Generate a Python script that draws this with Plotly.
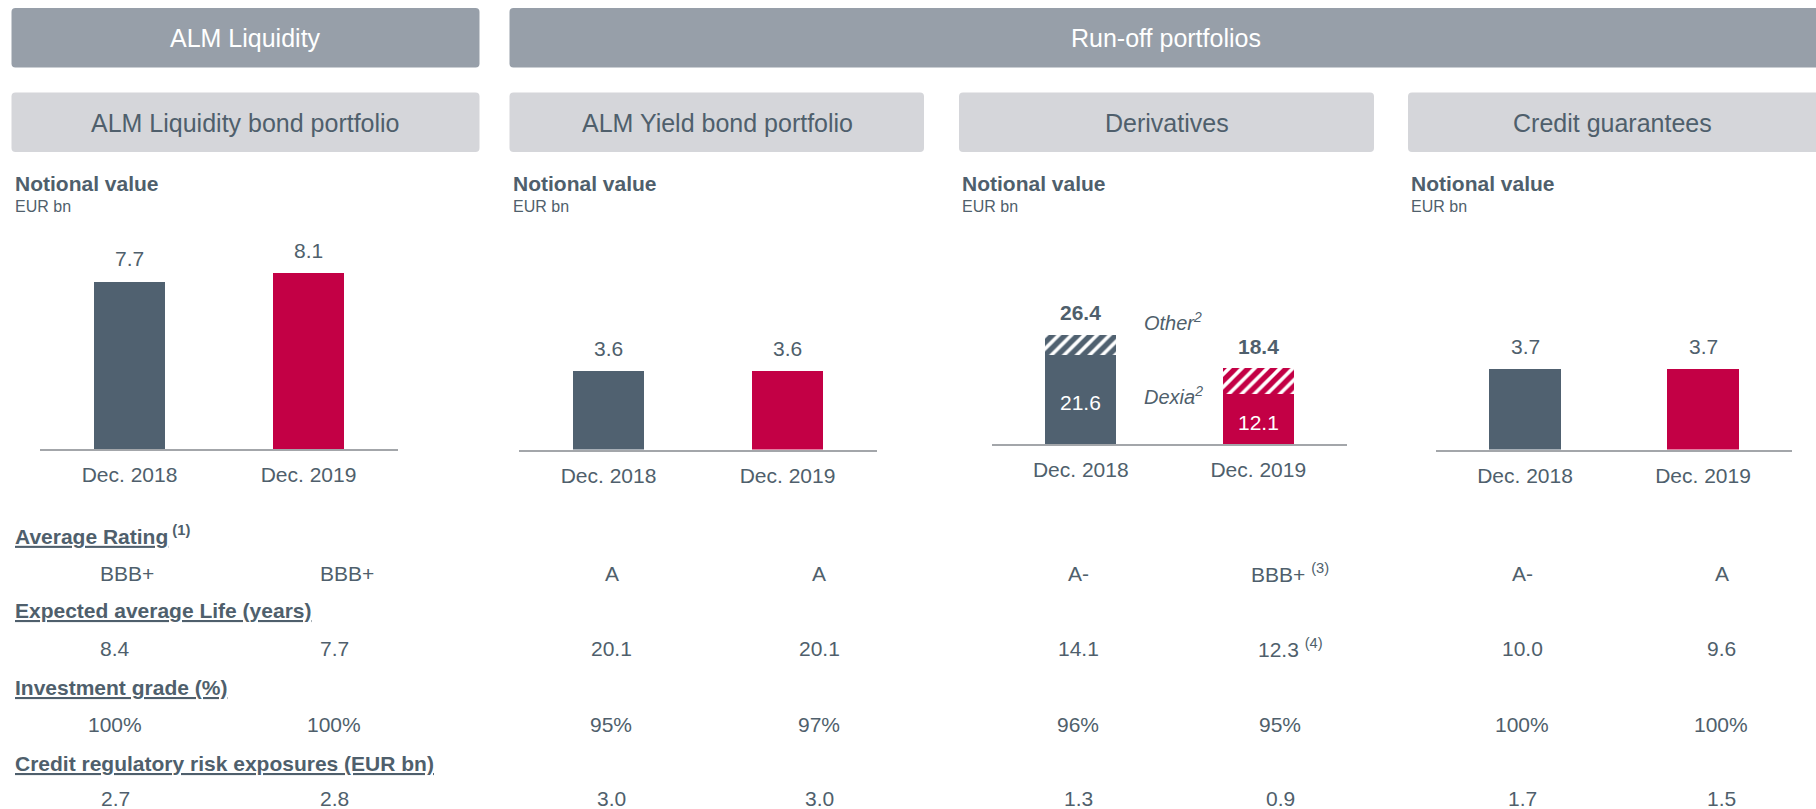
import plotly.graph_objects as go

W, H = 1816, 809

# ---------------- data ----------------
periods = ["Dec. 2018", "Dec. 2019"]

alm_liquidity_notional = [7.7, 8.1]
alm_yield_notional = [3.6, 3.6]
derivatives_dexia = [21.6, 12.1]
derivatives_other = [4.8, 6.3]
derivatives_total = [26.4, 18.4]
credit_guarantees_notional = [3.7, 3.7]

group_titles = ["ALM Liquidity", "Run-off portfolios"]
panel_titles = ["ALM Liquidity bond portfolio", "ALM Yield bond portfolio",
                "Derivatives", "Credit guarantees"]

metric_titles = ["Average Rating", "Expected average Life (years)",
                 "Investment grade (%)", "Credit regulatory risk exposures (EUR bn)"]
metric_title_notes = ["(1)", "", "", ""]

# one entry per column: 4 panels x (Dec. 2018, Dec. 2019)
average_rating = ["BBB+", "BBB+", "A", "A", "A-", "BBB+", "A-", "A"]
average_rating_notes = ["", "", "", "", "", "(3)", "", ""]
expected_life_years = [8.4, 7.7, 20.1, 20.1, 14.1, 12.3, 10.0, 9.6]
expected_life_notes = ["", "", "", "", "", "(4)", "", ""]
investment_grade_pct = [100, 100, 95, 97, 96, 95, 100, 100]
credit_risk_exposure = [2.7, 2.8, 3.0, 3.0, 1.3, 0.9, 1.7, 1.5]

# ---------------- styling ----------------
FONT = "Liberation Sans, Arial, sans-serif"
SLATE = "#4f5f6c"
DARK = "#506170"
RED = "#c30045"
GROUP_FILL = "#979fa9"
PANEL_FILL = "#d5d6da"
AXIS_LINE = "#a3a6aa"
PERIOD_COLORS = [DARK, RED]


def px_x(x):
    return x / W


def px_y(y):
    return 1 - y / H


def rounded_box(x0, y0, x1, y1, fill, r=4):
    X0, X1 = px_x(x0), px_x(x1)
    Y0, Y1 = px_y(y0), px_y(y1)
    rx, ry = r / W, r / H
    path = (f"M {X0 + rx},{Y0} L {X1 - rx},{Y0} Q {X1},{Y0} {X1},{Y0 - ry} "
            f"L {X1},{Y1 + ry} Q {X1},{Y1} {X1 - rx},{Y1} "
            f"L {X0 + rx},{Y1} Q {X0},{Y1} {X0},{Y1 + ry} "
            f"L {X0},{Y0 - ry} Q {X0},{Y0} {X0 + rx},{Y0} Z")
    return dict(type="path", path=path, xref="paper", yref="paper",
                fillcolor=fill, line=dict(width=0), layer="below")


def text_px(x, y, text, size, color=SLATE, xanchor="center", yanchor="middle"):
    return dict(x=px_x(x), y=px_y(y), xref="paper", yref="paper", text=text,
                showarrow=False, xanchor=xanchor, yanchor=yanchor,
                font=dict(family=FONT, size=size, color=color))


fig = go.Figure()
shapes = []
annotations = []

# ---------------- header boxes ----------------
# (left, right, text centre) in px; the run-off boxes run past the right edge
GROUP_BOXES = [(11.5, 479.5, 245.5), (509.5, 1830, 1166)]
for (x0, x1, cx), title in zip(GROUP_BOXES, group_titles):
    shapes.append(rounded_box(x0, 8, x1, 67.5, GROUP_FILL))
    annotations.append(text_px(cx, 38, title, 25, color="white"))

PANEL_BOXES = [(11.5, 479.5, 245.5), (509.5, 924, 717), (959, 1374, 1166.5),
               (1408, 1830, 1612)]
for (x0, x1, cx), title in zip(PANEL_BOXES, panel_titles):
    shapes.append(rounded_box(x0, 92.5, x1, 152, PANEL_FILL))
    annotations.append(text_px(cx, 122.5, title, 25))
    annotations.append(text_px(x0 + 1, 183, "<b>Notional value</b>", 21, xanchor="left"))
    annotations.append(text_px(x0 + 1, 206, "EUR bn", 16, xanchor="left"))

# ---------------- bar panels ----------------
TOP_Y = 230
# (x-domain px, axis line px, pixels per EUR bn)
PANEL_AXES = [
    ((40, 398), 449, 21.7),
    ((519, 877), 449.5, 21.7),
    ((992, 1347), 444, 4.13),
    ((1436, 1792), 449.5, 21.7),
]
BAR_WIDTH = 0.4
LABEL_GAP = 23

layout_axes = {}
for i, ((dx0, dx1), axis_y, scale) in enumerate(PANEL_AXES, start=1):
    sfx = "" if i == 1 else str(i)
    layout_axes[f"xaxis{sfx}"] = dict(
        domain=[px_x(dx0), px_x(dx1)], anchor=f"y{sfx}", type="category",
        range=[-0.5, 1.5], showline=True, linecolor=AXIS_LINE, linewidth=2,
        showgrid=False, zeroline=False, ticks="", ticklabelstandoff=6,
        tickfont=dict(family=FONT, size=21, color=SLATE), fixedrange=True)
    layout_axes[f"yaxis{sfx}"] = dict(
        domain=[px_y(axis_y), px_y(TOP_Y)], anchor=f"x{sfx}",
        range=[0, (axis_y - TOP_Y) / scale], visible=False,
        showgrid=False, zeroline=False, fixedrange=True)


def simple_panel(values, idx):
    sfx = "" if idx == 1 else str(idx)
    fig.add_trace(go.Bar(x=periods, y=values, width=BAR_WIDTH,
                         marker=dict(color=PERIOD_COLORS, line=dict(width=0)),
                         xaxis=f"x{sfx}", yaxis=f"y{sfx}", showlegend=False,
                         hoverinfo="x+y"))
    for p, v in zip(periods, values):
        annotations.append(dict(x=p, y=v, xref=f"x{sfx}", yref=f"y{sfx}",
                                text=f"{v:.1f}", showarrow=False,
                                yanchor="middle", yshift=LABEL_GAP,
                                font=dict(family=FONT, size=21, color=SLATE)))


simple_panel(alm_liquidity_notional, 1)
simple_panel(alm_yield_notional, 2)
simple_panel(credit_guarantees_notional, 4)

# Derivatives: Dexia (solid) + Other (hatched) stacked
fig.add_trace(go.Bar(x=periods, y=derivatives_dexia, width=BAR_WIDTH, name="Dexia",
                     marker=dict(color=PERIOD_COLORS, line=dict(width=0)),
                     xaxis="x3", yaxis="y3", showlegend=False, hoverinfo="x+y"))
fig.add_trace(go.Bar(x=periods, y=derivatives_other, width=BAR_WIDTH, name="Other",
                     marker=dict(color="white", line=dict(width=0),
                                 pattern=dict(shape="/", fgcolor=PERIOD_COLORS,
                                              bgcolor="white", fgopacity=1,
                                              size=9, solidity=0.6)),
                     xaxis="x3", yaxis="y3", showlegend=False, hoverinfo="x+y"))

for p, dexia, total in zip(periods, derivatives_dexia, derivatives_total):
    annotations.append(dict(x=p, y=total, xref="x3", yref="y3",
                            text=f"<b>{total:.1f}</b>", showarrow=False,
                            yanchor="middle", yshift=22,
                            font=dict(family=FONT, size=21, color=SLATE)))
    annotations.append(dict(x=p, y=dexia / 2, xref="x3", yref="y3",
                            text=f"{dexia:.1f}", showarrow=False,
                            yanchor="middle", yshift=-3,
                            font=dict(family=FONT, size=21, color="white")))

annotations.append(text_px(1142, 322, "<i>Other<sup>2</sup></i>", 20, xanchor="left"))
annotations.append(text_px(1142, 395, "<i>Dexia<sup>2</sup></i>", 20, xanchor="left"))

# ---------------- metrics table ----------------
COL_X = [115, 334, 611, 819, 1078, 1280, 1522, 1721]
RATING_COL_X = [127, 347, 612, 819, 1078, 1280, 1522, 1722]
HEADER_Y = [535, 610, 687, 763]
VALUE_Y = [573, 648, 724, 798]

for title, note, y in zip(metric_titles, metric_title_notes, HEADER_Y):
    txt = f"<b><u>{title}</u></b>"
    if note:
        txt += f"<sup><b> {note}</b></sup>"
    annotations.append(text_px(13, y, txt, 21, xanchor="left"))

rows = [
    ([f"{r}" for r in average_rating], average_rating_notes, RATING_COL_X),
    ([f"{v:.1f}" for v in expected_life_years], expected_life_notes, COL_X),
    ([f"{v:d}%" for v in investment_grade_pct], [""] * 8, COL_X),
    ([f"{v:.1f}" for v in credit_risk_exposure], [""] * 8, COL_X),
]
for (texts, notes, xs), y in zip(rows, VALUE_Y):
    for t, n, x in zip(texts, notes, xs):
        if n:
            annotations.append(text_px(x + 10, y, f"{t} <sup>{n}</sup>", 21))
        else:
            annotations.append(text_px(x, y, t, 21))

fig.update_layout(
    width=W, height=H, margin=dict(l=0, r=0, t=0, b=0),
    paper_bgcolor="white", plot_bgcolor="white",
    barmode="stack", showlegend=False,
    font=dict(family=FONT, color=SLATE),
    shapes=shapes, annotations=annotations,
    **layout_axes,
)

fig.write_html("out.html", config={"displayModeBar": False})
